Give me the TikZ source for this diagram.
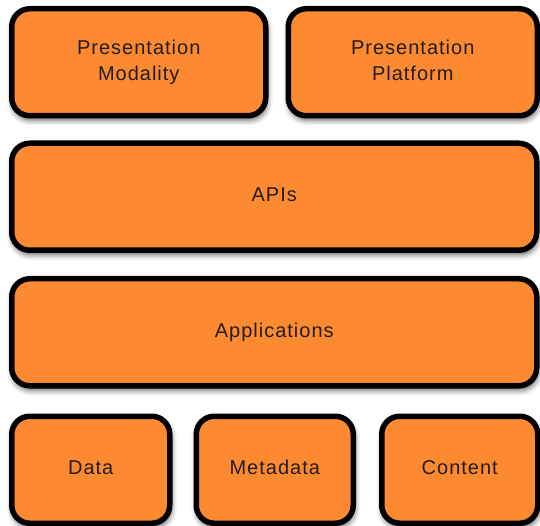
\documentclass[tikz,border=0pt]{standalone}
\usepackage{fontspec}
\setmainfont{Liberation Sans}[LetterSpace=5]
\usetikzlibrary{positioning,shadows.blur}
\definecolor{layerorange}{RGB}{253,137,48}
\definecolor{labelgray}{RGB}{34,30,28}
\tikzstyle{obox}=[rectangle, rounded corners=18pt, draw=black, fill=layerorange,
                  line width=5.5pt, minimum height=107pt, inner sep=2pt,
                  text centered, align=center, text=labelgray,
                  font=\fontsize{20}{26}\selectfont, execute at end node=\vphantom{y},
                  blur shadow={shadow xshift=1pt, shadow yshift=-4pt,
                               shadow blur radius=6pt, shadow opacity=70}]

\begin{document}
\begin{tikzpicture}[node distance=0mm]
\useasboundingbox (0,0) rectangle (540pt,-526pt);

\node (PRMOD) [obox, minimum width=254pt, anchor=north west
] at (9pt,-6pt) {Presentation\\Modality};

\node (PRPLAT) [obox, minimum width=249pt,
right=17pt of PRMOD.north east, anchor=north west] {Presentation\\Platform};

\node (APIS) [obox, minimum width=525pt,
below=22pt of PRMOD.south west, anchor=north west] {APIs};

\node (APPS) [obox, minimum width=525pt,
below=23pt of APIS.south west, anchor=north west] {Applications};

\node (DATA) [obox, minimum width=158pt,
below=25pt of APPS.south west, anchor=north west] {Data};

\node (META) [obox, minimum width=157pt,
right=21pt of DATA.north east, anchor=north west] {Metadata};

\node (CONT) [obox, minimum width=156pt,
right=23pt of META.north east, anchor=north west] {Content};

\end{tikzpicture}
\end{document}
